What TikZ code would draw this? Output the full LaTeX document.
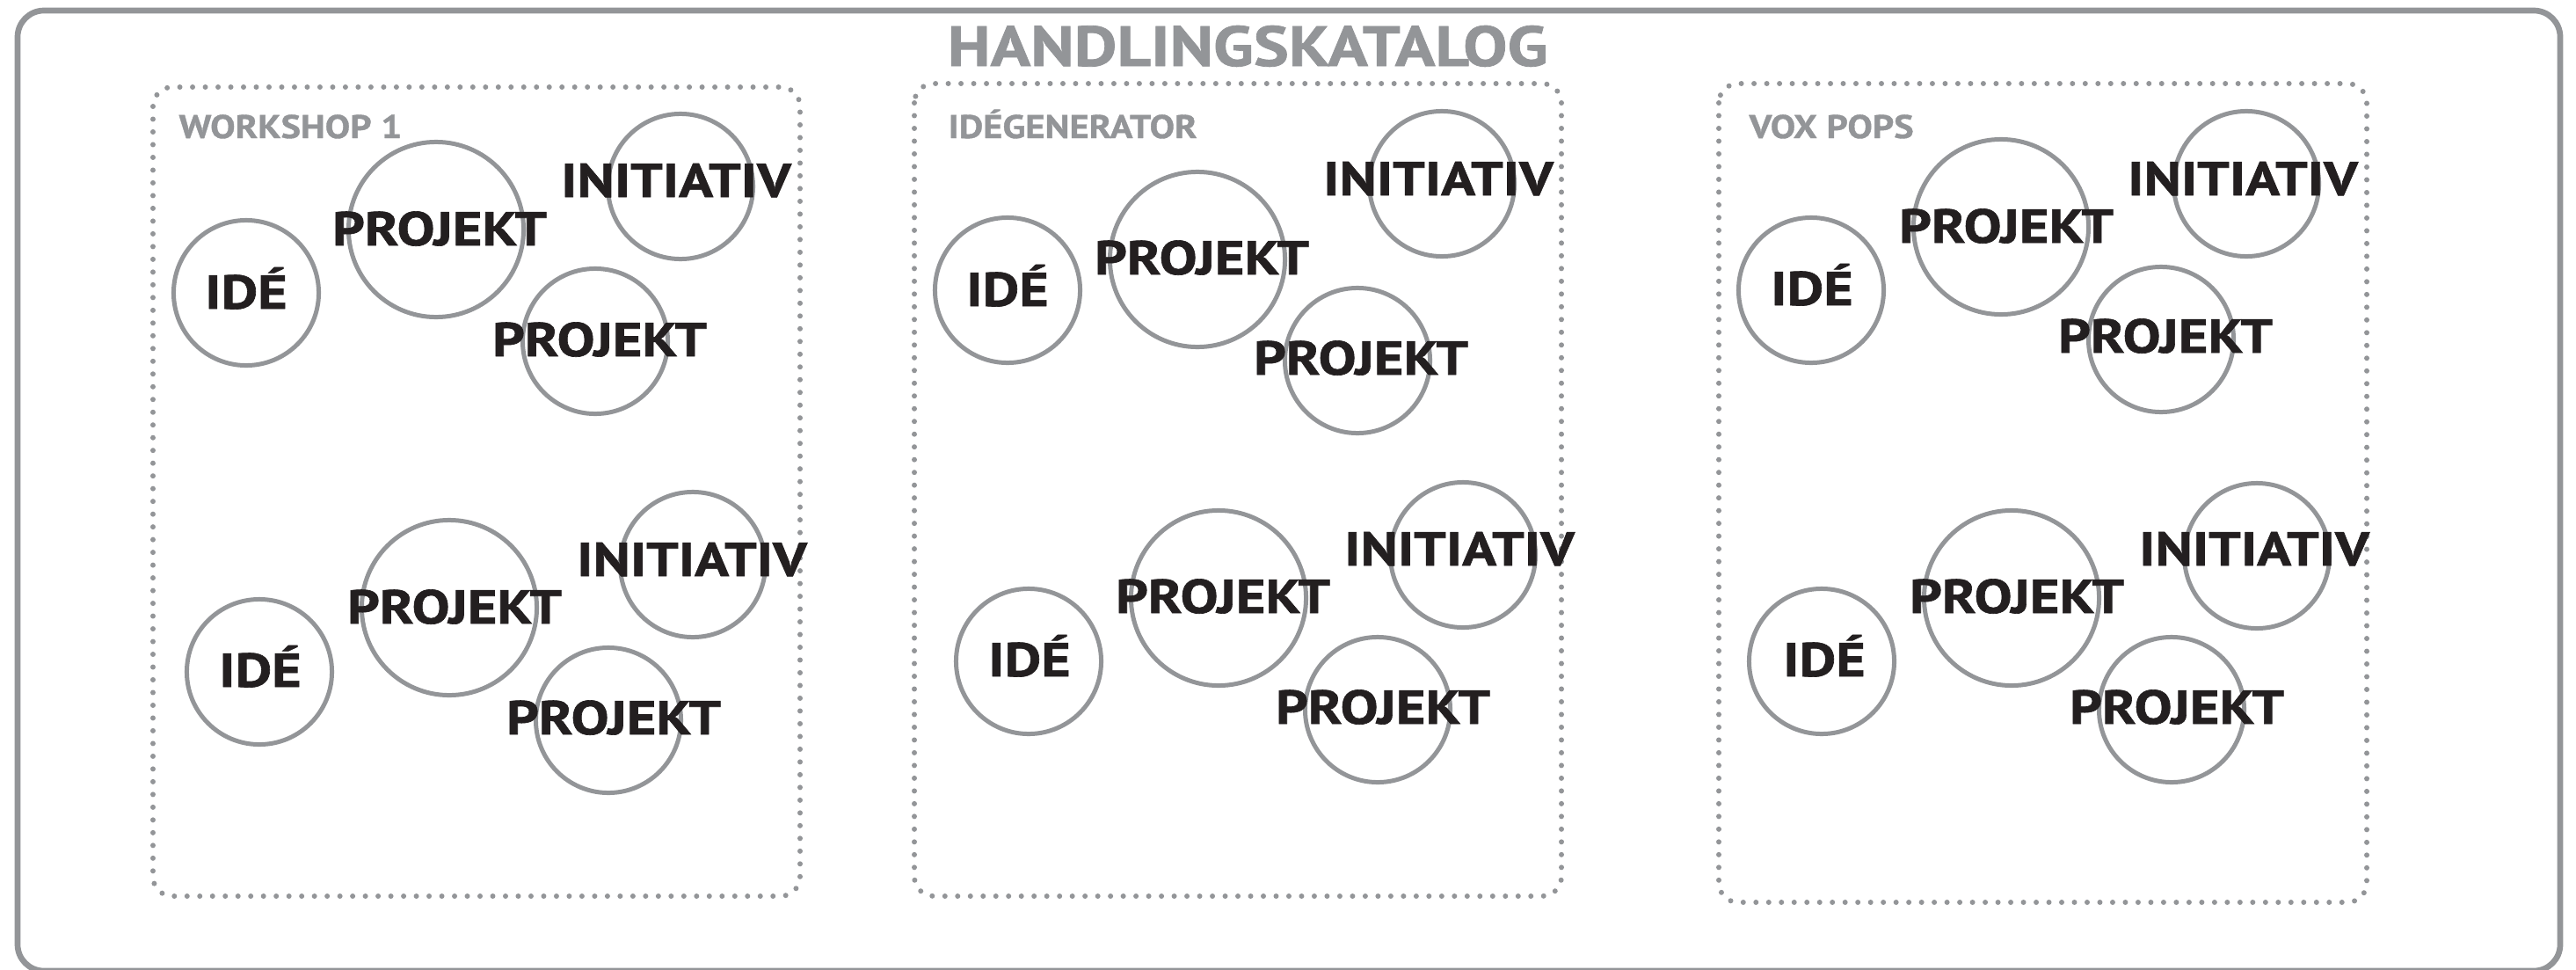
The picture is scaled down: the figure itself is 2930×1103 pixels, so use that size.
\documentclass[tikz,border=0pt]{standalone}
\usepackage{fontspec}
\setmainfont{PT Sans}
\newfontfamily\wordfont{PT Sans Bold}[FakeStretch=1.19, FakeBold=1.2]
\newfontfamily\titlefont{PT Sans Bold}[FakeStretch=1.17, FakeBold=1.2]
\newfontfamily\labelfont{PT Sans Bold}[FakeStretch=1.14, FakeBold=1.0]
\definecolor{katgray}{HTML}{939598}
\definecolor{katblack}{HTML}{231F20}
\tikzset{
	bubble/.style={circle, draw=katgray, line width=1.42pt, inner sep=0pt, minimum size=1.65cm},
	bigbubble/.style={bubble, minimum size=1.99cm},
	word/.style={anchor=base, inner sep=0pt, text=katblack, font=\wordfont\fontsize{15.4}{16}\selectfont},
	panelabel/.style={anchor=base west, inner sep=0pt, text=katgray, font=\labelfont\fontsize{10.6}{12}\selectfont},
	pane/.style={draw=katgray, line width=1.7pt, line cap=round, dash pattern=on 0pt off 4.12pt, rounded corners=0.22cm}
}

\begin{document}
\begin{tikzpicture}[x=0.01cm, y=-0.01cm]
			%%%%% START %%%%%
			\useasboundingbox (0, 0) rectangle (2930, 1103);
			
			\draw[draw=katgray, line width=1.9pt, rounded corners=0.3cm] (20, 12) rectangle (2912, 1104);
			\node[anchor=base, inner sep=0pt, text=katgray, font=\titlefont\fontsize{18.3}{20}\selectfont] (title) at (1419, 75) {HANDLINGSKATALOG};
			
			\draw[pane] (174, 99) rectangle (910, 1019);
			\draw[pane] (1040, 95) rectangle (1776, 1019);
			\draw[pane] (1955, 95) rectangle (2692, 1026);
			
			\node[panelabel] (lab1) at (203, 157) {WORKSHOP 1};
			\node[panelabel] (lab2) at (1078, 157) {IDÉGENERATOR};
			\node[panelabel] (lab3) at (1989, 157) {VOX POPS};
			
			% workshop 1
			\node[bubble] (wa1) at (280, 333) {};
			\node[bigbubble] (wa2) at (496, 261) {};
			\node[bubble] (wa3) at (774, 212) {};
			\node[bubble] (wa4) at (677, 388) {};
			\node[word] (twa1) at (280, 351) {IDÉ};
			\node[word] (twa2) at (500, 279) {PROJEKT};
			\node[word] (twa3) at (769, 224) {INITIATIV};
			\node[word] (twa4) at (682, 405) {PROJEKT};
			
			\node[bubble] (wb1) at (295, 764) {};
			\node[bigbubble] (wb2) at (511, 691) {};
			\node[bubble] (wb3) at (788, 642) {};
			\node[bubble] (wb4) at (692, 819) {};
			\node[word] (twb1) at (296, 781) {IDÉ};
			\node[word] (twb2) at (517, 709) {PROJEKT};
			\node[word] (twb3) at (787, 655) {INITIATIV};
			\node[word] (twb4) at (698, 835) {PROJEKT};
			
			% idegenerator
			\node[bubble] (ga1) at (1146, 330) {};
			\node[bigbubble] (ga2) at (1362, 295) {};
			\node[bubble] (ga3) at (1640, 209) {};
			\node[bubble] (ga4) at (1544, 410) {};
			\node[word] (tga1) at (1146, 348) {IDÉ};
			\node[word] (tga2) at (1367, 312) {PROJEKT};
			\node[word] (tga3) at (1636, 222) {INITIATIV};
			\node[word] (tga4) at (1548, 426) {PROJEKT};
			
			\node[bubble] (gb1) at (1170, 752) {};
			\node[bigbubble] (gb2) at (1386, 680) {};
			\node[bubble] (gb3) at (1664, 631) {};
			\node[bubble] (gb4) at (1567, 807) {};
			\node[word] (tgb1) at (1171, 769) {IDÉ};
			\node[word] (tgb2) at (1391, 697) {PROJEKT};
			\node[word] (tgb3) at (1660, 643) {INITIATIV};
			\node[word] (tgb4) at (1573, 823) {PROJEKT};
			
			% vox pops
			\node[bubble] (va1) at (2060, 330) {};
			\node[bigbubble] (va2) at (2276, 258) {};
			\node[bubble] (va3) at (2555, 209) {};
			\node[bubble] (va4) at (2458, 386) {};
			\node[word] (tva1) at (2061, 347) {IDÉ};
			\node[word] (tva2) at (2282, 276) {PROJEKT};
			\node[word] (tva3) at (2551, 222) {INITIATIV};
			\node[word] (tva4) at (2463, 401) {PROJEKT};
			
			\node[bubble] (vb1) at (2072, 752) {};
			\node[bigbubble] (vb2) at (2288, 680) {};
			\node[bubble] (vb3) at (2567, 632) {};
			\node[bubble] (vb4) at (2470, 807) {};
			\node[word] (tvb1) at (2075, 769) {IDÉ};
			\node[word] (tvb2) at (2294, 697) {PROJEKT};
			\node[word] (tvb3) at (2564, 643) {INITIATIV};
			\node[word] (tvb4) at (2476, 823) {PROJEKT};
			
			%%%%% END %%%%%
\end{tikzpicture}
\end{document}
